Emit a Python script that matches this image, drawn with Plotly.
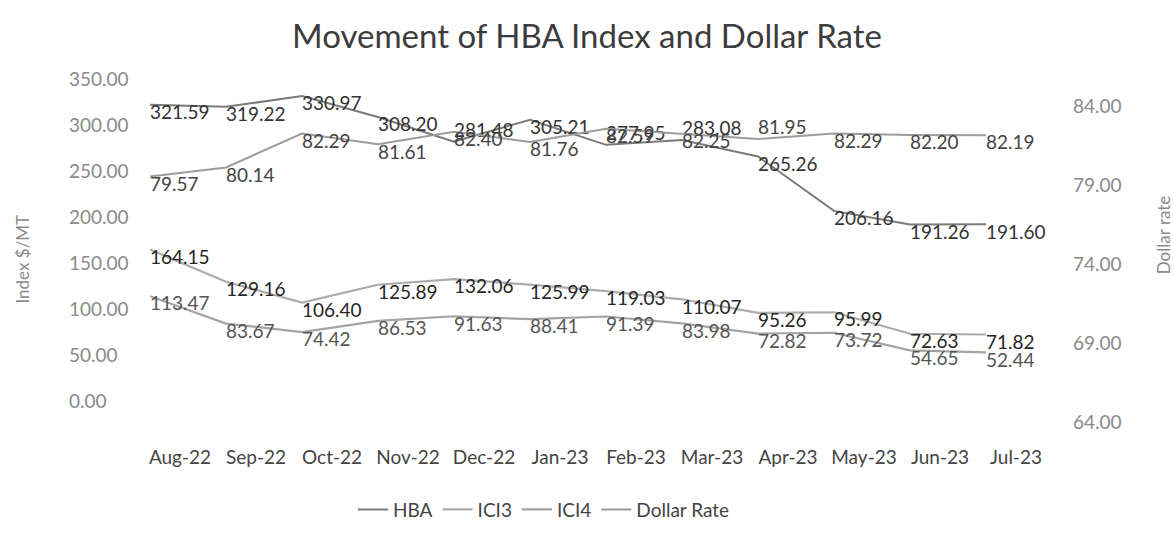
import plotly.graph_objects as go

months = ["Aug-22", "Sep-22", "Oct-22", "Nov-22", "Dec-22", "Jan-23",
          "Feb-23", "Mar-23", "Apr-23", "May-23", "Jun-23", "Jul-23"]
hba = [321.59, 319.22, 330.97, 308.20, 281.48, 305.21, 277.95, 283.08, 265.26, 206.16, 191.26, 191.60]
ici3 = [164.15, 129.16, 106.40, 125.89, 132.06, 125.99, 119.03, 110.07, 95.26, 95.99, 72.63, 71.82]
ici4 = [113.47, 83.67, 74.42, 86.53, 91.63, 88.41, 91.39, 83.98, 72.82, 73.72, 54.65, 52.44]
dollar = [79.57, 80.14, 82.29, 81.61, 82.40, 81.76, 82.59, 82.25, 81.95, 82.29, 82.20, 82.19]

left_ticks = [0, 50, 100, 150, 200, 250, 300, 350]
right_ticks = [64, 69, 74, 79, 84]

FONT = "Lato"
W, H = 1174, 541
ML, MR, MT, MB = 150, 188, 64, 109


def lbl(vals):
    return [f"{v:.2f}" for v in vals]


hba_pos = ["bottom right"] * len(hba)
for i in (4, 6, 7):
    hba_pos[i] = "top right"
dollar_pos = ["bottom right"] * len(dollar)
dollar_pos[8] = "top right"

fig = go.Figure()
fig.add_trace(go.Scatter(
    x=months, y=hba, name="HBA", mode="lines+text",
    line=dict(color="#7a7a7a", width=2),
    text=lbl(hba), textposition=hba_pos, cliponaxis=False,
    textfont=dict(family=FONT, size=19, color="#333333")))
fig.add_trace(go.Scatter(
    x=months, y=ici3, name="ICI3", mode="lines+text",
    line=dict(color="#ababab", width=2.2),
    text=lbl(ici3), textposition="bottom right", cliponaxis=False,
    textfont=dict(family=FONT, size=19, color="#262626")))
fig.add_trace(go.Scatter(
    x=months, y=ici4, name="ICI4", mode="lines+text",
    line=dict(color="#a3a3a3", width=2.2),
    text=lbl(ici4), textposition="bottom right", cliponaxis=False,
    textfont=dict(family=FONT, size=19, color="#555555")))
fig.add_trace(go.Scatter(
    x=months, y=dollar, name="Dollar Rate", mode="lines+text", yaxis="y2",
    line=dict(color="#9c9c9c", width=2),
    text=lbl(dollar), textposition=dollar_pos, cliponaxis=False,
    textfont=dict(family=FONT, size=19, color="#444444")))

pw = W - ML - MR
ph = H - MT - MB


def px(x):
    return (x - ML) / pw


def py(y):
    return (H - MB - y) / ph


fig.update_layout(
    width=W, height=H, autosize=False,
    margin=dict(l=ML, r=MR, t=MT, b=MB, pad=0),
    paper_bgcolor="#ffffff", plot_bgcolor="#ffffff",
    title=dict(text="Movement of HBA Index and Dollar Rate",
               x=0.5, xref="container", xanchor="center",
               y=1 - 36 / H, yref="container", yanchor="middle",
               font=dict(family=FONT, size=33, color="#3c3c3c")),
    xaxis=dict(type="category", categoryorder="array", categoryarray=months,
               range=[0, len(months) - 1], showgrid=False, zeroline=False,
               showline=False, ticks="", ticklabelstandoff=22, ticklabelshift=30,
               tickfont=dict(family=FONT, size=19, color="#444444")),
    yaxis=dict(range=[-23.3, 365.8], tickvals=left_ticks,
               showticklabels=False,
               showgrid=False, zeroline=False, showline=False, ticks=""),
    yaxis2=dict(range=[64, 86.7], tickvals=right_ticks,
                ticktext=[f"{v:.2f}" for v in right_ticks],
                overlaying="y", side="right",
                showgrid=False, zeroline=False, showline=False, ticks="",
                ticklabelstandoff=86,
                tickfont=dict(family=FONT, size=19, color="#8a8a8a")),
    legend=dict(orientation="h", x=px(544), xanchor="center",
                y=py(522), yanchor="middle", itemwidth=30,
                font=dict(family=FONT, size=19, color="#444444"),
                bgcolor="rgba(0,0,0,0)"),
    showlegend=True,
)

# left-aligned tick labels for the left axis, placed on the axis scale
for v in left_ticks:
    fig.add_annotation(text=f"{v:.2f}", xref="paper", yref="y",
                       x=px(67), y=v, xanchor="left", yanchor="middle",
                       showarrow=False,
                       font=dict(family=FONT, size=19, color="#8a8a8a"))

fig.add_annotation(text="Index $/MT", xref="paper", yref="paper",
                   x=px(23), y=py(265), xanchor="center", yanchor="middle",
                   textangle=-90, showarrow=False,
                   font=dict(family=FONT, size=17, color="#8a8a8a"))
fig.add_annotation(text="Dollar rate", xref="paper", yref="paper",
                   x=px(1163), y=py(240), xanchor="center", yanchor="middle",
                   textangle=-90, showarrow=False,
                   font=dict(family=FONT, size=17, color="#8a8a8a"))

fig.write_html("out.html")
